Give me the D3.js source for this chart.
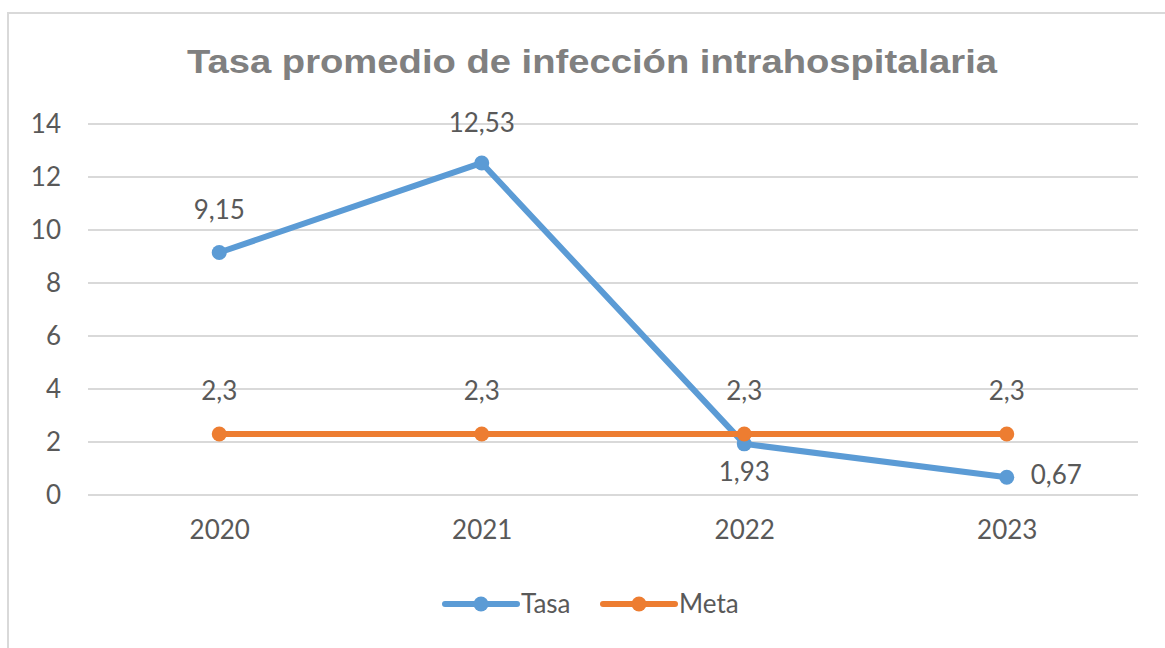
<!DOCTYPE html>
<html>
<head>
<meta charset="utf-8">
<script src="https://cdn.jsdelivr.net/npm/d3@7"></script>
<style>
  body { margin: 0; background: #fff; }
  svg text { font-family: Lato, "Open Sans", sans-serif; fill: #595959; }
</style>
</head>
<body>
<div class="canvas"></div>
<script>
// data
const years = ['2020', '2021', '2022', '2023'];
const tasa = [9.15, 12.53, 1.93, 0.67];
const meta = [2.3, 2.3, 2.3, 2.3];
const yTicks = [0, 2, 4, 6, 8, 10, 12, 14];

const dims = { width: 1165, height: 648 };
const plot = { left: 88, right: 1138, top: 124, bottom: 495 };

const svg = d3.select('.canvas').append('svg')
  .attr('width', dims.width)
  .attr('height', dims.height);

// chart border (only top + left visible in the crop)
svg.append('path')
  .attr('d', `M8,${dims.height + 5} L8,13 L${dims.width + 5},13`)
  .attr('fill', 'none')
  .attr('stroke', '#d9d9d9')
  .attr('stroke-width', 2);

// title - stretched a bit wider like the original
svg.append('text')
  .attr('x', 187)
  .attr('y', 73)
  .attr('textLength', 810)
  .attr('lengthAdjust', 'spacingAndGlyphs')
  .style('font-family', '"Liberation Sans", Arial, sans-serif')
  .style('font-weight', 'bold')
  .style('font-size', '33px')
  .style('fill', '#808080')
  .text('Tasa promedio de infección intrahospitalaria');

const x = d3.scalePoint()
  .domain(years)
  .range([plot.left, plot.right])
  .padding(0.5);

const y = d3.scaleLinear()
  .domain([0, 14])
  .range([plot.bottom, plot.top]);

// gridlines
svg.append('g')
  .selectAll('line')
  .data(yTicks)
  .enter().append('line')
  .attr('x1', plot.left)
  .attr('x2', plot.right)
  .attr('y1', d => y(d))
  .attr('y2', d => y(d))
  .attr('stroke', '#d9d9d9')
  .attr('stroke-width', 2);

// y axis labels
const yAxis = svg.append('g')
  .attr('transform', `translate(${plot.left}, 0)`)
  .call(d3.axisLeft(y).tickValues(yTicks).tickSize(0).tickPadding(27));
yAxis.select('.domain').remove();
yAxis.selectAll('text').style('font-size', '26px').attr('fill', '#595959');

// x axis labels
const xAxis = svg.append('g')
  .attr('transform', `translate(0, ${plot.bottom})`)
  .call(d3.axisBottom(x).tickSize(0).tickPadding(26));
xAxis.select('.domain').remove();
xAxis.selectAll('text').style('font-size', '26px').attr('fill', '#595959');

const line = d3.line()
  .x((d, i) => x(years[i]))
  .y(d => y(d));

const series = [
  { name: 'Tasa', values: tasa, colour: '#5b9bd5' },
  { name: 'Meta', values: meta, colour: '#ed7d31' }
];

series.forEach(s => {
  const g = svg.append('g');
  g.append('path')
    .datum(s.values)
    .attr('d', line)
    .attr('fill', 'none')
    .attr('stroke', s.colour)
    .attr('stroke-width', 6)
    .attr('stroke-linejoin', 'round');
  g.selectAll('circle')
    .data(s.values)
    .enter().append('circle')
    .attr('cx', (d, i) => x(years[i]))
    .attr('cy', d => y(d))
    .attr('r', 7.5)
    .attr('fill', s.colour);
});

// data labels
const fmt = d => String(d).replace('.', ',');
const labelPos = {
  Tasa: [[0, -43], [0, -40], [0, 28], [24, -2]],
  Meta: [[0, -43], [0, -43], [0, -43], [0, -43]]
};
series.forEach(s => {
  svg.append('g')
    .selectAll('text')
    .data(s.values)
    .enter().append('text')
    .attr('x', (d, i) => x(years[i]) + labelPos[s.name][i][0])
    .attr('y', (d, i) => y(d) + labelPos[s.name][i][1])
    .attr('dy', '0.35em')
    .attr('text-anchor', (d, i) => labelPos[s.name][i][0] > 0 ? 'start' : 'middle')
    .style('font-size', '26px')
    .text(fmt);
});

// legend
const legend = svg.append('g')
  .attr('transform', 'translate(445, 604)');
const items = legend.selectAll('g')
  .data(series)
  .enter().append('g')
  .attr('transform', (d, i) => `translate(${i * 158}, 0)`);
items.append('line')
  .attr('x1', 0).attr('x2', 72)
  .attr('stroke', d => d.colour)
  .attr('stroke-width', 6)
  .attr('stroke-linecap', 'round');
items.append('circle')
  .attr('cx', 36)
  .attr('r', 7.5)
  .attr('fill', d => d.colour);
items.append('text')
  .attr('x', 76)
  .attr('dy', '0.35em')
  .style('font-size', '26px')
  .text(d => d.name);
</script>
</body>
</html>
